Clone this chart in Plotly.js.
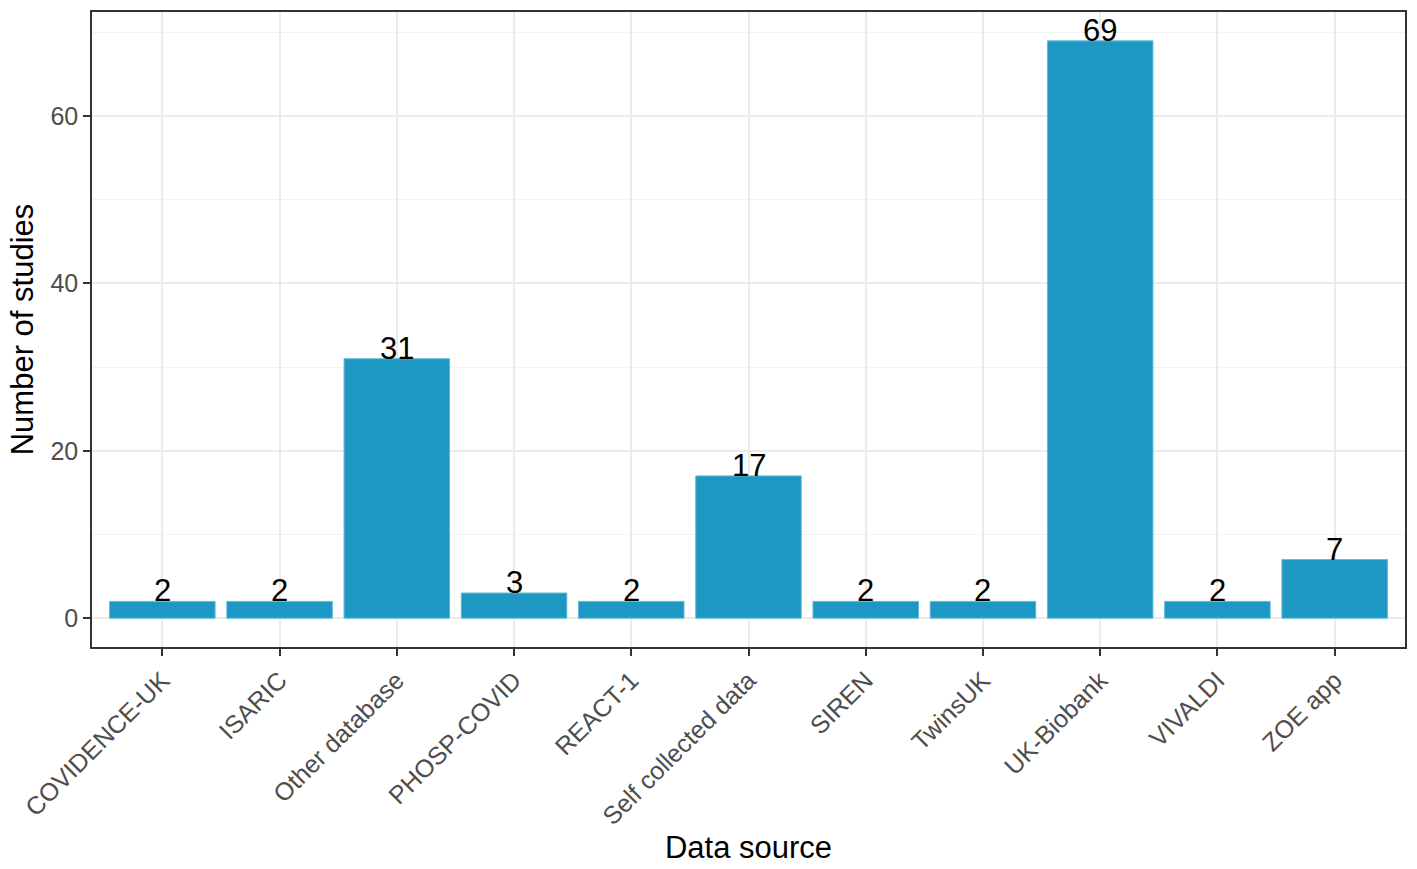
<!DOCTYPE html>
<html>
<head>
<meta charset="utf-8">
<script src="https://cdn.plot.ly/plotly-3.0.1.min.js"></script>
<style>
  html, body { margin: 0; padding: 0; background: #fff; }
  #myDiv { width: 1417px; height: 869px; }
</style>
</head>
<body>
<div id="myDiv"></div>
<script>
var sources = ['COVIDENCE-UK', 'ISARIC', 'Other database', 'PHOSP-COVID', 'REACT-1',
  'Self collected data', 'SIREN', 'TwinsUK', 'UK-Biobank', 'VIVALDI', 'ZOE app'];
var studies = [2, 2, 31, 3, 2, 17, 2, 2, 69, 2, 7];
var yTicks = [0, 20, 40, 60];

var bars = {
  type: 'bar',
  x: sources,
  y: studies,
  width: 0.9,
  marker: {
    color: '#1D98C2',
    line: { color: '#5FBAD8', width: 1 }
  },
  hoverinfo: 'x+y',
  showlegend: false
};

// count labels sitting on top of each bar
var labels = sources.map(function (s, i) {
  return {
    x: s,
    y: studies[i],
    text: String(studies[i]),
    showarrow: false,
    xref: 'x',
    yref: 'y',
    yanchor: 'bottom',
    yshift: -9,
    font: { family: 'Liberation Sans, Arial, sans-serif', size: 31, color: '#000' }
  };
});

var layout = {
  width: 1417,
  height: 869,
  margin: { l: 92, r: 12, t: 12, b: 222 },
  paper_bgcolor: '#fff',
  plot_bgcolor: '#fff',
  font: { family: 'Liberation Sans, Arial, sans-serif', color: '#000' },
  bargap: 0.1,
  xaxis: {
    type: 'category',
    range: [-0.6, 10.6],
    tickangle: -45,
    ticks: 'outside',
    ticklen: 7,
    tickwidth: 1.5,
    tickcolor: '#333',
    tickfont: { size: 25, color: '#4D4D4D' },
    showgrid: true,
    gridcolor: '#EBEBEB',
    gridwidth: 1.5,
    zeroline: false,
    showline: true,
    linecolor: '#333',
    linewidth: 1.5,
    mirror: true,
    title: {
      text: 'Data source',
      font: { size: 31, color: '#000' },
      standoff: 7
    }
  },
  yaxis: {
    range: [-3.45, 72.45],
    tickvals: yTicks,
    ticktext: yTicks.map(String),
    ticks: 'outside',
    ticklen: 7,
    tickwidth: 1.5,
    tickcolor: '#333',
    tickfont: { size: 25, color: '#4D4D4D' },
    showgrid: true,
    gridcolor: '#EBEBEB',
    gridwidth: 1.5,
    minor: { tickvals: [10, 30, 50, 70], showgrid: true, gridcolor: '#F2F2F2', gridwidth: 1 },
    zeroline: false,
    showline: true,
    linecolor: '#333',
    linewidth: 1.5,
    mirror: true,
    title: {
      text: 'Number of studies',
      font: { size: 31, color: '#000' },
      standoff: 8
    }
  },
  annotations: labels
};

Plotly.newPlot('myDiv', [bars], layout, { displayModeBar: false });
</script>
</body>
</html>
